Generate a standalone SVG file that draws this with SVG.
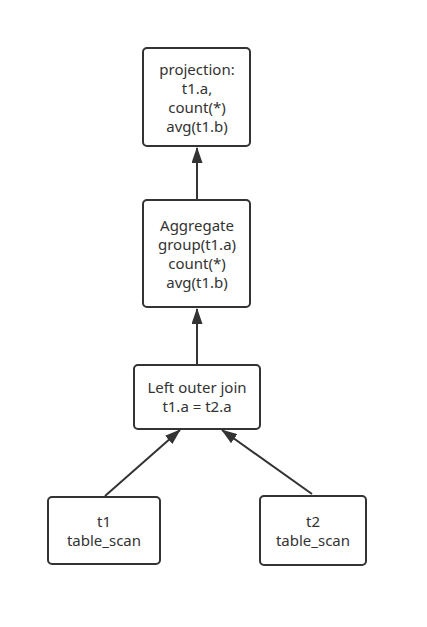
<svg xmlns="http://www.w3.org/2000/svg" width="427" height="627" viewBox="0 0 427 627">
  <style>
    .box { fill: #ffffff; stroke: #333333; stroke-width: 2; }
    .lbl { font-family: "Noto Sans", "Open Sans", sans-serif; font-size: 15px; fill: #333333; text-anchor: middle; }
    .edge { stroke: #333333; stroke-width: 2; fill: none; marker-end: url(#head); }
  </style>
  <defs>
    <marker id="head" viewBox="0 0 16 11" refX="15" refY="5.5" markerWidth="8" markerHeight="5.5" orient="auto" markerUnits="strokeWidth">
      <path d="M0,0 L16,5.5 L0,11 z" fill="#333333"/>
    </marker>
  </defs>
  <rect width="427" height="627" fill="#ffffff"/>

  <g id="connectors">
    <line class="edge" x1="197" y1="200" x2="197" y2="148"/>
    <line class="edge" x1="197" y1="365" x2="197" y2="309"/>
    <line class="edge" x1="105" y1="496" x2="180" y2="430"/>
    <line class="edge" x1="312" y1="494" x2="222" y2="430"/>
  </g>

  <g id="projection">
    <rect class="box" x="143" y="48" width="107" height="98" rx="4"/>
    <text class="lbl" x="197" y="75">projection:</text>
    <text class="lbl" x="197" y="94">t1.a,</text>
    <text class="lbl" x="197" y="113">count(*)</text>
    <text class="lbl" x="197" y="132">avg(t1.b)</text>
  </g>

  <g id="aggregate">
    <rect class="box" x="143" y="200" width="107" height="107" rx="4"/>
    <text class="lbl" x="197" y="231">Aggregate</text>
    <text class="lbl" x="197" y="250">group(t1.a)</text>
    <text class="lbl" x="197" y="269">count(*)</text>
    <text class="lbl" x="197" y="288">avg(t1.b)</text>
  </g>

  <g id="join">
    <rect class="box" x="134" y="365" width="126" height="64" rx="4"/>
    <text class="lbl" x="197" y="393">Left outer join</text>
    <text class="lbl" x="197" y="412">t1.a = t2.a</text>
  </g>

  <g id="scan-t1">
    <rect class="box" x="48" y="497" width="112" height="67" rx="4"/>
    <text class="lbl" x="104" y="527">t1</text>
    <text class="lbl" x="104" y="546">table_scan</text>
  </g>

  <g id="scan-t2">
    <rect class="box" x="260" y="496" width="106" height="69" rx="4"/>
    <text class="lbl" x="313" y="527">t2</text>
    <text class="lbl" x="313" y="546">table_scan</text>
  </g>
</svg>
